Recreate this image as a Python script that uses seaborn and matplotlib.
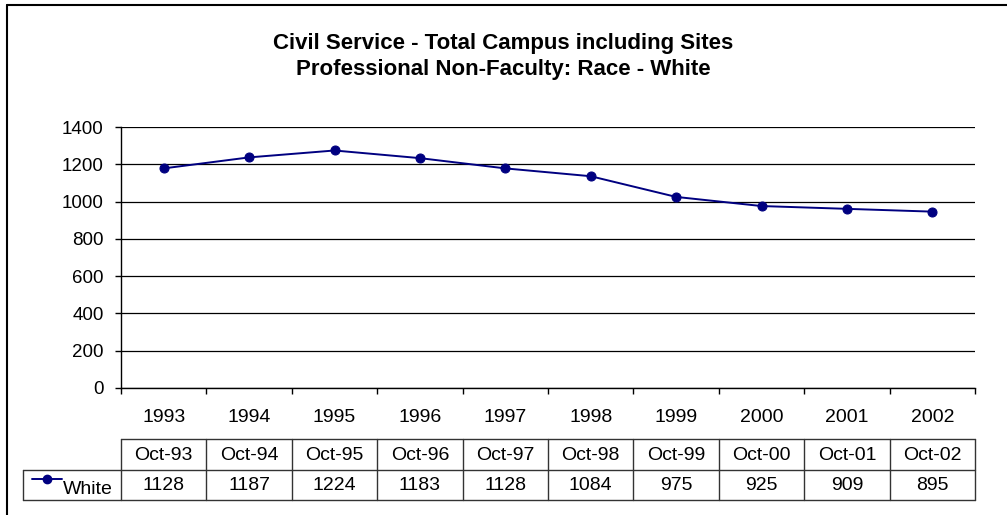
import matplotlib
matplotlib.use("Agg")
import matplotlib.pyplot as plt
import matplotlib.transforms as mtransforms
from matplotlib.lines import Line2D
import seaborn as sns
import pandas as pd
import numpy as np

# ---- data ----
years = ["1993", "1994", "1995", "1996", "1997", "1998", "1999", "2000", "2001", "2002"]
table_headers = ["Oct-93", "Oct-94", "Oct-95", "Oct-96", "Oct-97", "Oct-98", "Oct-99", "Oct-00", "Oct-01", "Oct-02"]
table_values = [1128, 1187, 1224, 1183, 1128, 1084, 975, 925, 909, 895]
plotted_values = [1178, 1237, 1274, 1233, 1178, 1136, 1025, 976, 961, 946]
series_name = "White"
title_lines = ["Civil Service - Total Campus including Sites",
               "Professional Non-Faculty: Race - White"]
y_ticks = [0, 200, 400, 600, 800, 1000, 1200, 1400]

sns.set_theme(style="white")
plt.rcParams['font.family'] = ['Liberation Sans', 'DejaVu Sans']
plt.rcParams['text.color'] = 'black'

W, H = 1007, 515
fig = plt.figure(figsize=(W / 100, H / 100), dpi=100)
fig.patch.set_facecolor("white")

def fx(px):
    return px / W

def fy(py):
    return 1 - py / H

left, right, top, bottom = 121, 975, 127, 388
ax = fig.add_axes([fx(left), fy(bottom), fx(right) - fx(left), fy(top) - fy(bottom)])

df = pd.DataFrame({"x": np.arange(len(years)), "value": plotted_values})
color = "#000080"
sns.lineplot(data=df, x="x", y="value", ax=ax, color=color, linewidth=1.4,
             marker="o", markersize=6.5, markeredgecolor=color, markerfacecolor=color)

ax.set_xlim(-0.5, len(years) - 0.5)
ax.set_ylim(0, 1400)
ax.set_yticks(y_ticks)
ax.set_yticklabels([str(v) for v in y_ticks], fontsize=13.5, color="black")
ax.set_xticks(np.arange(len(years)))
ax.set_xticklabels(years, fontsize=14, color="black")
ax.set_xticks(np.arange(-0.5, len(years)), minor=True)
ax.tick_params(axis="x", which="major", length=0, pad=15, labelcolor="black")
ax.tick_params(axis="x", which="minor", length=4.5, direction="out", width=1, color="black", bottom=True)
ax.tick_params(axis="y", which="major", length=4.5, direction="out", width=1, color="black", left=True, pad=8,
               labelcolor="black")
ax.set_xlabel("")
ax.set_ylabel("")
ax.grid(axis="y", color="black", linewidth=0.9)
ax.grid(axis="x", visible=False)
for side in ["top", "right"]:
    ax.spines[side].set_visible(False)
for side in ["left", "bottom"]:
    ax.spines[side].set_visible(True)
    ax.spines[side].set_color("black")
    ax.spines[side].set_linewidth(1)

# title
fig.text(0.5, fy(43), title_lines[0], ha="center", va="center", fontsize=16, fontweight="bold", color="black")
fig.text(0.5, fy(70), title_lines[1], ha="center", va="center", fontsize=16, fontweight="bold", color="black")

# data table below the chart
trans = mtransforms.blended_transform_factory(ax.transData, fig.transFigure)
row_top, row_mid, row_bot = 439, 470, 500
leg_left = 23
lc = "#333333"
lw = 1
fig.add_artist(Line2D([fx(left), fx(right)], [fy(row_top)] * 2, color=lc, lw=lw))
fig.add_artist(Line2D([fx(leg_left), fx(right)], [fy(row_mid)] * 2, color=lc, lw=lw))
fig.add_artist(Line2D([fx(leg_left), fx(right)], [fy(row_bot)] * 2, color=lc, lw=lw))
for b in np.arange(-0.5, len(years)):
    fig.add_artist(Line2D([b, b], [fy(row_top), fy(row_bot)], color=lc, lw=lw, transform=trans))
fig.add_artist(Line2D([fx(leg_left)] * 2, [fy(row_mid), fy(row_bot)], color=lc, lw=lw))
for i, (h, v) in enumerate(zip(table_headers, table_values)):
    fig.text(i, fy((row_top + row_mid) / 2 + 1), h, transform=trans, ha="center", va="center", fontsize=14,
             color="black")
    fig.text(i, fy((row_mid + row_bot) / 2 + 1), str(v), transform=trans, ha="center", va="center", fontsize=14,
             color="black")
# legend key
fig.add_artist(Line2D([fx(32), fx(62)], [fy(479)] * 2, color=color, lw=1.4))
fig.add_artist(Line2D([fx(47)], [fy(479)], color=color, marker="o", markersize=6, lw=0))
fig.text(fx(113), fy(489), series_name, ha="right", va="center", fontsize=14, color="black")

# outer chart border (left and top visible)
fig.add_artist(Line2D([fx(7), fx(7)], [fy(5), 0], color="black", lw=1.5))
fig.add_artist(Line2D([fx(7), 1], [fy(5), fy(5)], color="black", lw=1.5))

fig.savefig("out.png", dpi=100)
